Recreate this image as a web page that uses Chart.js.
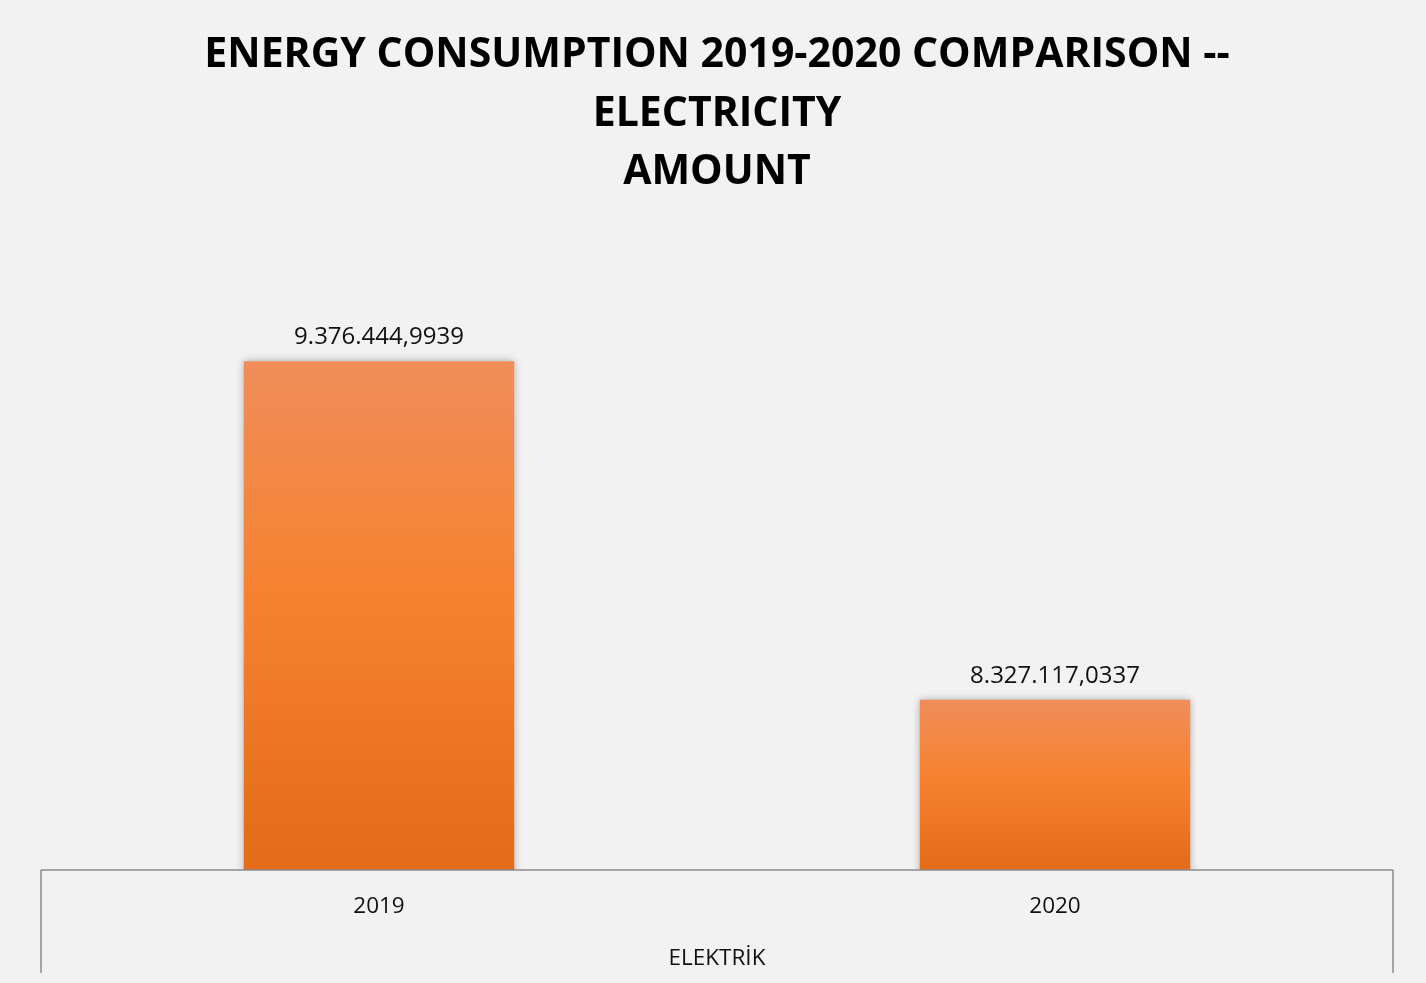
<!DOCTYPE html>
<html>
<head>
<meta charset="utf-8">
<script src="https://cdn.jsdelivr.net/npm/chart.js@4/dist/chart.umd.min.js"></script>
<style>
  html, body { margin: 0; padding: 0; background: #f2f2f2; }
</style>
</head>
<body>
<canvas id="energyChart" width="1426" height="983"></canvas>
<script>
const years = ['2019', '2020'];
const electricity = [9376444.9939, 8327117.0337];
const groupLabel = 'ELEKTRİK';
const titleLines = ['ENERGY CONSUMPTION 2019-2020 COMPARISON --', 'ELECTRICITY', 'AMOUNT'];
const yMin = 7800000;
const yMax = 9600000;

// turkish style number: 9.376.444,9939
function trFormat(v) {
  const parts = v.toFixed(4).split('.');
  return parts[0].replace(/\B(?=(\d{3})+(?!\d))/g, '.') + ',' + parts[1];
}

const barShadow = {
  id: 'barShadow',
  beforeDatasetsDraw(chart) {
    const ctx = chart.ctx;
    ctx.save();
    ctx.shadowColor = 'rgba(0, 0, 0, 0.3)';
    ctx.shadowBlur = 8;
    ctx.shadowOffsetX = 0;
    ctx.shadowOffsetY = 0;
  },
  afterDatasetsDraw(chart) {
    chart.ctx.restore();
  }
};

const valueLabels = {
  id: 'valueLabels',
  afterDatasetsDraw(chart) {
    const ctx = chart.ctx;
    const meta = chart.getDatasetMeta(0);
    ctx.save();
    ctx.shadowColor = 'transparent';
    ctx.font = '24px "Open Sans"';
    ctx.fillStyle = '#111';
    ctx.textAlign = 'center';
    ctx.textBaseline = 'middle';
    meta.data.forEach((bar, i) => {
      ctx.fillText(trFormat(electricity[i]), bar.x, bar.y - 24);
    });
    ctx.restore();
  }
};

const axisFrame = {
  id: 'axisFrame',
  afterDraw(chart) {
    const ctx = chart.ctx;
    const a = chart.chartArea;
    const low = chart.height - 10;
    ctx.save();
    ctx.strokeStyle = '#8c8c8c';
    ctx.lineWidth = 1.5;
    ctx.beginPath();
    ctx.moveTo(a.left, a.bottom);
    ctx.lineTo(a.right, a.bottom);
    ctx.moveTo(a.left, a.bottom);
    ctx.lineTo(a.left, low);
    ctx.moveTo(a.right, a.bottom);
    ctx.lineTo(a.right, low);
    ctx.stroke();
    ctx.font = '22.5px "Open Sans"';
    ctx.fillStyle = '#111';
    ctx.textAlign = 'center';
    ctx.textBaseline = 'middle';
    ctx.fillText(groupLabel, (a.left + a.right) / 2, a.bottom + 89);
    ctx.restore();
  }
};

new Chart(document.getElementById('energyChart'), {
  type: 'bar',
  data: {
    labels: years,
    datasets: [{
      data: electricity,
      categoryPercentage: 1,
      barPercentage: 0.4,
      borderWidth: 0,
      backgroundColor: function (c) {
        const chart = c.chart;
        const area = chart.chartArea;
        if (!area || !chart.scales.y || c.raw === undefined) return '#f5822f';
        const top = chart.scales.y.getPixelForValue(c.raw);
        const g = chart.ctx.createLinearGradient(0, top, 0, area.bottom);
        g.addColorStop(0, '#f08d5a');
        g.addColorStop(0.45, '#f6822f');
        g.addColorStop(1, '#e46b18');
        return g;
      }
    }]
  },
  options: {
    responsive: false,
    animation: false,
    layout: { padding: { left: 41, right: 33, top: 0, bottom: 0 } },
    plugins: {
      legend: { display: false },
      tooltip: { enabled: false },
      title: {
        display: true,
        text: titleLines,
        color: '#000',
        font: { family: 'Open Sans', size: 41, weight: 'bold', lineHeight: 1.427 },
        padding: { top: 26.5, bottom: 87 }
      }
    },
    scales: {
      x: {
        grid: { display: false, drawTicks: false },
        border: { display: false },
        ticks: {
          color: '#111',
          font: { family: 'Open Sans', size: 22.5 },
          padding: 23
        },
        afterFit: s => { s.height = 113; }
      },
      y: {
        display: false,
        min: yMin,
        max: yMax
      }
    }
  },
  plugins: [barShadow, valueLabels, axisFrame]
});
</script>
</body>
</html>
